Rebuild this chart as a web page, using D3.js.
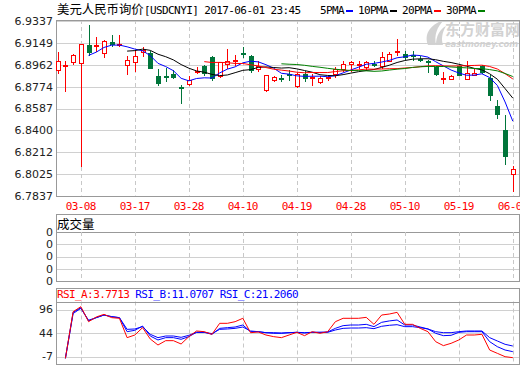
<!DOCTYPE html>
<html lang="zh">
<head>
<meta charset="utf-8">
<title>美元人民币询价 USDCNYI</title>
<script src="https://d3js.org/d3.v7.min.js"></script>
<style>
  body { margin: 0; background: #fff; }
  svg { display: block; }
</style>
</head>
<body>
<svg></svg>
<script>

// ---- data ----

const dates = ["03-03","03-06","03-07","03-08","03-09","03-10","03-13","03-14","03-15","03-16",
  "03-17","03-20","03-21","03-22","03-23","03-24","03-27","03-28","03-29","03-30",
  "03-31","04-05","04-06","04-07","04-10","04-11","04-12","04-13","04-14","04-17",
  "04-18","04-19","04-20","04-21","04-24","04-25","04-26","04-27","04-28","05-02",
  "05-03","05-04","05-05","05-08","05-09","05-10","05-11","05-12","05-15","05-16",
  "05-17","05-18","05-19","05-22","05-23","05-24","05-25","05-26","05-31","06-01"];

const open = [6.8915,6.8950,6.8989,6.8978,6.9135,6.9126,6.9061,6.9158,6.9137,6.8958,
  6.8989,6.9070,6.9064,6.8864,6.8866,6.8884,6.8772,6.8798,6.8904,6.8950,
  6.9027,6.8869,6.8969,6.9001,6.9068,6.9035,6.8926,6.8749,6.8829,6.8852,
  6.8886,6.8778,6.8884,6.8846,6.8812,6.8853,6.8884,6.8929,6.8969,6.8958,
  6.8941,6.8972,6.8950,6.8998,6.9075,6.9055,6.9047,6.9010,6.8995,6.8941,
  6.8840,6.8843,6.8952,6.8843,6.8877,6.8950,6.8849,6.8609,6.8402,6.8022];

const high = [6.9072,6.8998,6.9058,6.9141,6.9307,6.9199,6.9178,6.9216,6.9221,6.9035,
  6.9084,6.9113,6.9078,6.8929,6.8935,6.8920,6.8791,6.8866,6.8941,6.8963,
  6.9035,6.8987,6.9098,6.9049,6.9113,6.9044,6.8998,6.8877,6.8864,6.8877,
  6.8915,6.8892,6.8907,6.8884,6.8864,6.8864,6.8941,6.8998,6.8998,6.8993,
  6.8998,6.8993,6.9070,6.9070,6.9184,6.9084,6.9078,6.9035,6.9006,6.8950,
  6.8901,6.8877,6.8956,6.8998,6.8929,6.8958,6.8872,6.8660,6.8531,6.8093];

const low = [6.8892,6.8740,6.8972,6.8093,6.9047,6.9078,6.9032,6.9121,6.9124,6.8883,
  6.8912,6.9035,6.8935,6.8791,6.8821,6.8849,6.8637,6.8791,6.8892,6.8877,
  6.8834,6.8858,6.8935,6.8963,6.9027,6.8901,6.8907,6.8740,6.8821,6.8826,
  6.8834,6.8774,6.8821,6.8786,6.8806,6.8832,6.8855,6.8912,6.8912,6.8935,
  6.8920,6.8950,6.8935,6.8993,6.9049,6.9015,6.9006,6.8993,6.8901,6.8877,
  6.8806,6.8843,6.8872,6.8843,6.8872,6.8892,6.8656,6.8503,6.8110,6.7881];

const close = [6.8993,6.8963,6.9044,6.9141,6.9075,6.9133,6.9164,6.9144,6.9143,6.9001,
  6.9035,6.9092,6.8938,6.8809,6.8862,6.8858,6.8765,6.8829,6.8909,6.8892,
  6.8849,6.8984,6.8993,6.9006,6.9064,6.8920,6.8955,6.8872,6.8855,6.8846,
  6.8881,6.8884,6.8849,6.8860,6.8849,6.8858,6.8929,6.8969,6.8984,6.8969,
  6.8984,6.8967,6.9027,6.9055,6.9081,6.9027,6.9042,6.9004,6.8989,6.8884,
  6.8846,6.8864,6.8877,6.8892,6.8892,6.8901,6.8703,6.8537,6.8182,6.8067];

// RSI lines, in the units of the panel's own axis
const rsiA = [null,-11,91.2,102.2,69.3,79.6,85.4,78.1,76.7,34.3,
  40.1,56.2,31.4,18.2,27.7,27.7,20.4,36.5,48.9,47.4,
  41.6,65.7,65.7,69.3,76.7,45.2,46.7,40.1,36.5,34.3,
  40.1,46,38.7,47.4,43.8,47.4,69.3,76.7,76.7,76.7,
  78.8,63.5,83.9,86.1,89.8,63.5,63.5,54.7,47.4,25.5,
  16.8,21.9,29.2,40.1,40.1,41.6,7.2,-0.1,-7.4,-9.6];

const rsiB = [null,-11,89.8,100,71,78.1,83.9,80.3,78.1,47.4,
  50.4,59.8,37.9,29.2,34.3,34.3,30.7,36.5,46,46,
  41.6,54.7,56.2,57.6,62,47.4,47.4,45.2,43.8,43.8,
  45.2,46,44.5,46,46,46.7,54.7,60.6,62,62,
  63.5,58.4,67.9,71,73,62,62,57.6,53.3,43.8,
  38.7,39.4,46,47.4,47.4,47.4,25.5,14.5,7.2,3.6];

const rsiC = [null,-11,87.2,98.5,72.5,78.1,83.9,80.3,78.1,52.5,
  53.3,58.4,41.6,34.3,37.9,37.9,35,39.4,46,46,
  43.1,52.5,53.3,54.7,57.6,48.9,47.4,45.2,45.2,44.5,
  45.2,46,45.2,46,46,46,51.1,54.7,55.4,55.4,
  56.2,54,59.2,61.4,62.7,58.4,58.4,56.2,53.3,47.4,
  45.2,45.2,47.4,48.9,48.9,48.9,34.3,27,19.7,16];

const priceTicks = ["6.9337","6.9149","6.8962","6.8774","6.8587","6.8400","6.8212","6.8025","6.7837"];
const dateTicks = ["03-08","03-17","03-28","04-10","04-19","04-28","05-10","05-19","06-01"];
const volTicks = ["0","0","0","0","0"];
const rsiTicks = [96, 44, -7];
const maPeriods = [5, 10, 20, 30];
const rsiValues = ["3.7713", "11.0707", "21.2060"];

// ---- layout ----

const w = 520;
const h = 365;
const left = 56, right = 519;
const main = {top: 20, bottom: 195.5};
const vol = {top: 214, head: 232, bottom: 281};
const rsi = {top: 287.5, head: 301.5, bottom: 364};

const RED = "#ff0000", GREEN = "#00753a", BLUE = "#0000ff";
const maColors = [BLUE, "#000000", RED, "#008000"];
const MONO = "'DejaVu Sans Mono', monospace";
const CJK = "'Noto Sans CJK SC', sans-serif";

const px = v => Math.round(v) + 0.5;

const svg = d3.select("svg")
    .attr("width", w)
    .attr("height", h)
    .style("font-family", "'DejaVu Sans', sans-serif");

const xScale = d3.scalePoint()
    .domain(dates)
    .range([57.7, 512.8]);

const yScale = d3.scaleLinear()
    .domain([+priceTicks[priceTicks.length - 1], +priceTicks[0]])
    .range([195.8, 21.2]);

const yVol = d3.scalePoint()
    .domain(d3.range(volTicks.length))
    .range([vol.head, vol.bottom]);

const yRsi = d3.scaleLinear()
    .domain([-7, 96])
    .range([356.5, 309.5]);

// clip areas
const defs = svg.append("defs");
defs.append("clipPath").attr("id", "clipMain")
  .append("rect")
    .attr("x", left).attr("y", main.top)
    .attr("width", right - left).attr("height", main.bottom - main.top);
defs.append("clipPath").attr("id", "clipRsi")
  .append("rect")
    .attr("x", left).attr("y", rsi.head)
    .attr("width", right - left).attr("height", rsi.bottom - rsi.head);

// ---- watermark ----

const wm = svg.append("g").attr("fill", "#d2d2d2");
wm.append("path")
    .attr("d", "M428,45 C424,35 429,25 444,20 C437,27 434,35 436,45 Z M436,45 C436,36 440,29 446,26 C442,33 441,39 443,45 Z");
wm.append("text")
    .attr("x", 445).attr("y", 35)
    .attr("font-family", CJK)
    .attr("font-weight", "bold")
    .attr("font-size", "15px")
    .text("东方财富网");
wm.append("text")
    .attr("x", 445).attr("y", 46.5)
    .attr("font-weight", "bold")
    .attr("font-style", "italic")
    .attr("font-size", "8.5px")
    .attr("textLength", 73)
    .text("eastmoney.com");

// ---- grids and frames ----

function vGrid(y0, y1) {
  svg.append("g")
    .selectAll("line")
    .data(dateTicks)
    .join("line")
      .attr("x1", d => px(xScale(d)))
      .attr("x2", d => px(xScale(d)))
      .attr("y1", y0)
      .attr("y2", y1)
      .attr("stroke", "#c8c8c8")
      .attr("stroke-dasharray", "4,3");
}

function frame(y0, y1) {
  svg.append("rect")
      .attr("x", left + 0.5)
      .attr("y", px(y0))
      .attr("width", right - left)
      .attr("height", Math.round(y1) - Math.round(y0))
      .attr("fill", "none")
      .attr("stroke", "#999");
}

// main panel
svg.append("g")
  .selectAll("line")
  .data(priceTicks)
  .join("line")
    .attr("x1", left).attr("x2", right)
    .attr("y1", d => px(yScale(+d)))
    .attr("y2", d => px(yScale(+d)))
    .attr("stroke", "#d0d0d0");
vGrid(main.top, main.bottom);
frame(main.top, main.bottom);

svg.append("g")
  .selectAll("text")
  .data(priceTicks)
  .join("text")
    .attr("x", 53)
    .attr("y", d => yScale(+d))
    .attr("dy", "0.36em")
    .attr("text-anchor", "end")
    .attr("font-size", "11px")
    .attr("fill", "#222")
    .text(d => d);

svg.append("g")
  .selectAll("text")
  .data(dateTicks)
  .join("text")
    .attr("x", d => xScale(d))
    .attr("y", 210)
    .attr("text-anchor", "middle")
    .attr("font-family", MONO)
    .attr("font-size", "11px")
    .attr("letter-spacing", "-0.6px")
    .attr("fill", RED)
    .text(d => d);

// volume panel (empty)
svg.append("g")
  .selectAll("line")
  .data(volTicks)
  .join("line")
    .attr("x1", left).attr("x2", right)
    .attr("y1", (d, i) => px(yVol(i)))
    .attr("y2", (d, i) => px(yVol(i)))
    .attr("stroke", (d, i) => i == 0 ? "#999" : "#d0d0d0");
vGrid(vol.head, vol.bottom);
frame(vol.top, vol.bottom);

svg.append("text")
    .attr("x", 57).attr("y", 228.5)
    .attr("font-family", CJK)
    .attr("font-size", "12.5px")
    .text("成交量");

svg.append("g")
  .selectAll("text")
  .data(volTicks)
  .join("text")
    .attr("x", 53)
    .attr("y", (d, i) => yVol(i))
    .attr("dy", "0.36em")
    .attr("text-anchor", "end")
    .attr("font-size", "11px")
    .attr("fill", "#222")
    .text(d => d);

// RSI panel
svg.append("g")
  .selectAll("line")
  .data(rsiTicks)
  .join("line")
    .attr("x1", left).attr("x2", right)
    .attr("y1", d => px(yRsi(d)))
    .attr("y2", d => px(yRsi(d)))
    .attr("stroke", "#d0d0d0");
vGrid(rsi.head, rsi.bottom);
frame(rsi.top, rsi.bottom);
svg.append("line")
    .attr("x1", left).attr("x2", right)
    .attr("y1", px(rsi.head)).attr("y2", px(rsi.head))
    .attr("stroke", "#999");

svg.append("g")
  .selectAll("text")
  .data(rsiTicks)
  .join("text")
    .attr("x", 53)
    .attr("y", d => yRsi(d))
    .attr("dy", "0.36em")
    .attr("text-anchor", "end")
    .attr("font-size", "11px")
    .attr("fill", "#222")
    .text(d => d);

const rsiHead = svg.append("text")
    .attr("x", 57).attr("y", 298)
    .attr("font-family", MONO)
    .attr("font-size", "11px")
    .attr("letter-spacing", "-0.6px");
["RSI_A", "RSI_B", "RSI_C"].forEach((name, k) => {
  rsiHead.append("tspan")
      .attr("fill", k == 0 ? RED : BLUE)
      .text((k ? " " : "") + name + ":" + rsiValues[k]);
});

// ---- title and legend ----

const title = svg.append("text")
    .attr("x", 57).attr("y", 14)
    .attr("fill", "#000");
title.append("tspan")
    .attr("font-family", CJK)
    .attr("font-size", "12.4px")
    .text("美元人民币询价");
title.append("tspan")
    .attr("x", 144)
    .attr("font-family", MONO)
    .attr("font-size", "11px")
    .attr("letter-spacing", "-0.6px")
    .text("[USDCNYI] 2017-06-01 23:45");

let lx = 320;
maPeriods.forEach((p, k) => {
  const label = p + "PMA";
  svg.append("text")
      .attr("x", lx).attr("y", 14)
      .attr("font-family", MONO)
      .attr("font-size", "11px")
      .attr("letter-spacing", "-0.6px")
      .text(label);
  lx += label.length * 6 + 2;
  svg.append("rect")
      .attr("x", lx).attr("y", 10)
      .attr("width", 7).attr("height", 2)
      .attr("fill", maColors[k]);
  lx += 12;
});

// ---- candles ----

const bars = dates.map((d, i) => ({d: d, o: open[i], h: high[i], l: low[i], c: close[i]}));

const candle = svg.append("g")
    .attr("clip-path", "url(#clipMain)")
    .attr("shape-rendering", "crispEdges")
  .selectAll("g")
  .data(bars)
  .join("g");

candle.append("line")
    .attr("x1", d => px(xScale(d.d)))
    .attr("x2", d => px(xScale(d.d)))
    .attr("y1", d => Math.round(yScale(d.h)))
    .attr("y2", d => Math.round(yScale(d.l)) + 1)
    .attr("stroke", d => d.c >= d.o ? RED : GREEN);

candle.append("rect")
    .attr("x", d => px(xScale(d.d)) - 2)
    .attr("y", d => px(yScale(Math.max(d.o, d.c))))
    .attr("width", 4)
    .attr("height", d => Math.max(1, Math.round(yScale(Math.min(d.o, d.c))) - Math.round(yScale(Math.max(d.o, d.c)))))
    .attr("fill", d => d.c >= d.o ? "#fff" : GREEN)
    .attr("stroke", d => d.c >= d.o ? RED : GREEN);

// ---- moving averages ----

const maLine = d3.line()
    .defined(v => v != null)
    .x((v, i) => xScale(dates[i]))
    .y(v => yScale(v));

const maG = svg.append("g").attr("clip-path", "url(#clipMain)");
maPeriods.forEach((p, k) => {
  const ma = close.map((c, i) => i >= p - 1 ? d3.mean(close.slice(i - p + 1, i + 1)) : null);
  maG.append("path")
      .attr("d", maLine(ma))
      .attr("fill", "none")
      .attr("stroke", maColors[k])
      .attr("stroke-width", 1);
});

// ---- RSI lines ----

const rsiLine = d3.line()
    .defined(v => v != null)
    .x((v, i) => xScale(dates[i]))
    .y(v => yRsi(v));

const rsiG = svg.append("g").attr("clip-path", "url(#clipRsi)");
[[rsiC, BLUE], [rsiB, BLUE], [rsiA, RED]].forEach(([s, col]) => {
  rsiG.append("path")
      .attr("d", rsiLine(s))
      .attr("fill", "none")
      .attr("stroke", col)
      .attr("stroke-width", 1);
});

</script>
</body>
</html>
